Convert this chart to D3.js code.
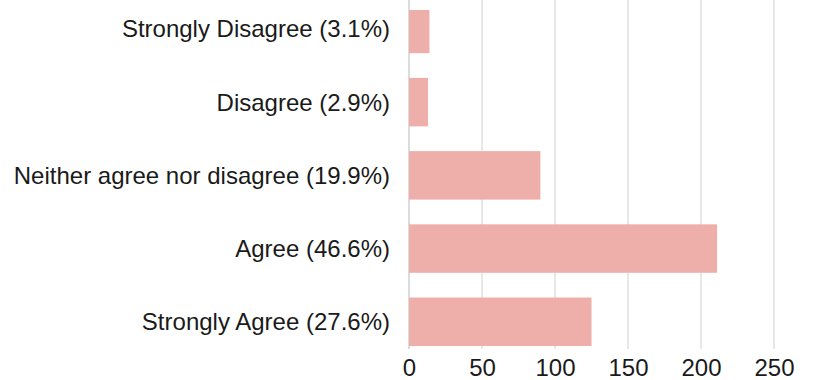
<!DOCTYPE html>
<html>
<head>
<meta charset="utf-8">
<script src="https://cdn.jsdelivr.net/npm/d3@7"></script>
<style>
  html, body { margin: 0; padding: 0; background: #fff; }
  svg { display: block; }
</style>
</head>
<body>
<svg id="chart" width="813" height="380"></svg>
<script>
const categories = [
  "Strongly Disagree (3.1%)",
  "Disagree (2.9%)",
  "Neither agree nor disagree (19.9%)",
  "Agree (46.6%)",
  "Strongly Agree (27.6%)"
];
const counts = [14, 13, 90, 211, 125];
const tickValues = [0, 50, 100, 150, 200, 250];

const svg = d3.select("#chart");
const fontFamily = "'Liberation Sans', Arial, Helvetica, sans-serif";

const x = d3.scaleLinear().domain([0, 250]).range([409, 774]);
const y = d3.scaleBand().domain(categories).range([4.7, 346]).paddingInner(0.338).paddingOuter(0);

svg.append("defs").append("clipPath").attr("id", "plotclip")
  .append("rect").attr("x", 0).attr("y", 10).attr("width", 813).attr("height", 370);

// gridlines
svg.append("g").selectAll("line").data(tickValues).join("line")
  .attr("x1", d => x(d)).attr("x2", d => x(d))
  .attr("y1", 0).attr("y2", 349)
  .attr("stroke", d => d === 0 ? "#dcdcdc" : "#e8e8e8")
  .attr("stroke-width", 2);

// bars
svg.append("g").attr("clip-path", "url(#plotclip)")
  .selectAll("rect").data(categories).join("rect")
  .attr("x", x(0))
  .attr("y", d => y(d))
  .attr("width", (d, i) => x(counts[i]) - x(0))
  .attr("height", y.bandwidth())
  .attr("fill", "#eeaeaa");

// category labels
svg.append("g").selectAll("text").data(categories).join("text")
  .attr("x", 390)
  .attr("y", d => y(d) + y.bandwidth() / 2)
  .attr("dy", "0.35em")
  .attr("text-anchor", "end")
  .attr("font-family", fontFamily)
  .attr("font-size", 24)
  .attr("fill", "#1a1a1a")
  .text(d => d);

// x axis tick labels
const xAxis = d3.axisBottom(x).tickValues(tickValues).tickSize(0).tickPadding(0);
const gx = svg.append("g").attr("transform", "translate(0,350)").call(xAxis);
gx.select(".domain").remove();
gx.selectAll("text")
  .attr("font-family", fontFamily)
  .attr("font-size", 24)
  .attr("fill", "#1a1a1a")
  .attr("y", 25.5)
  .attr("dy", 0);
</script>
</body>
</html>
